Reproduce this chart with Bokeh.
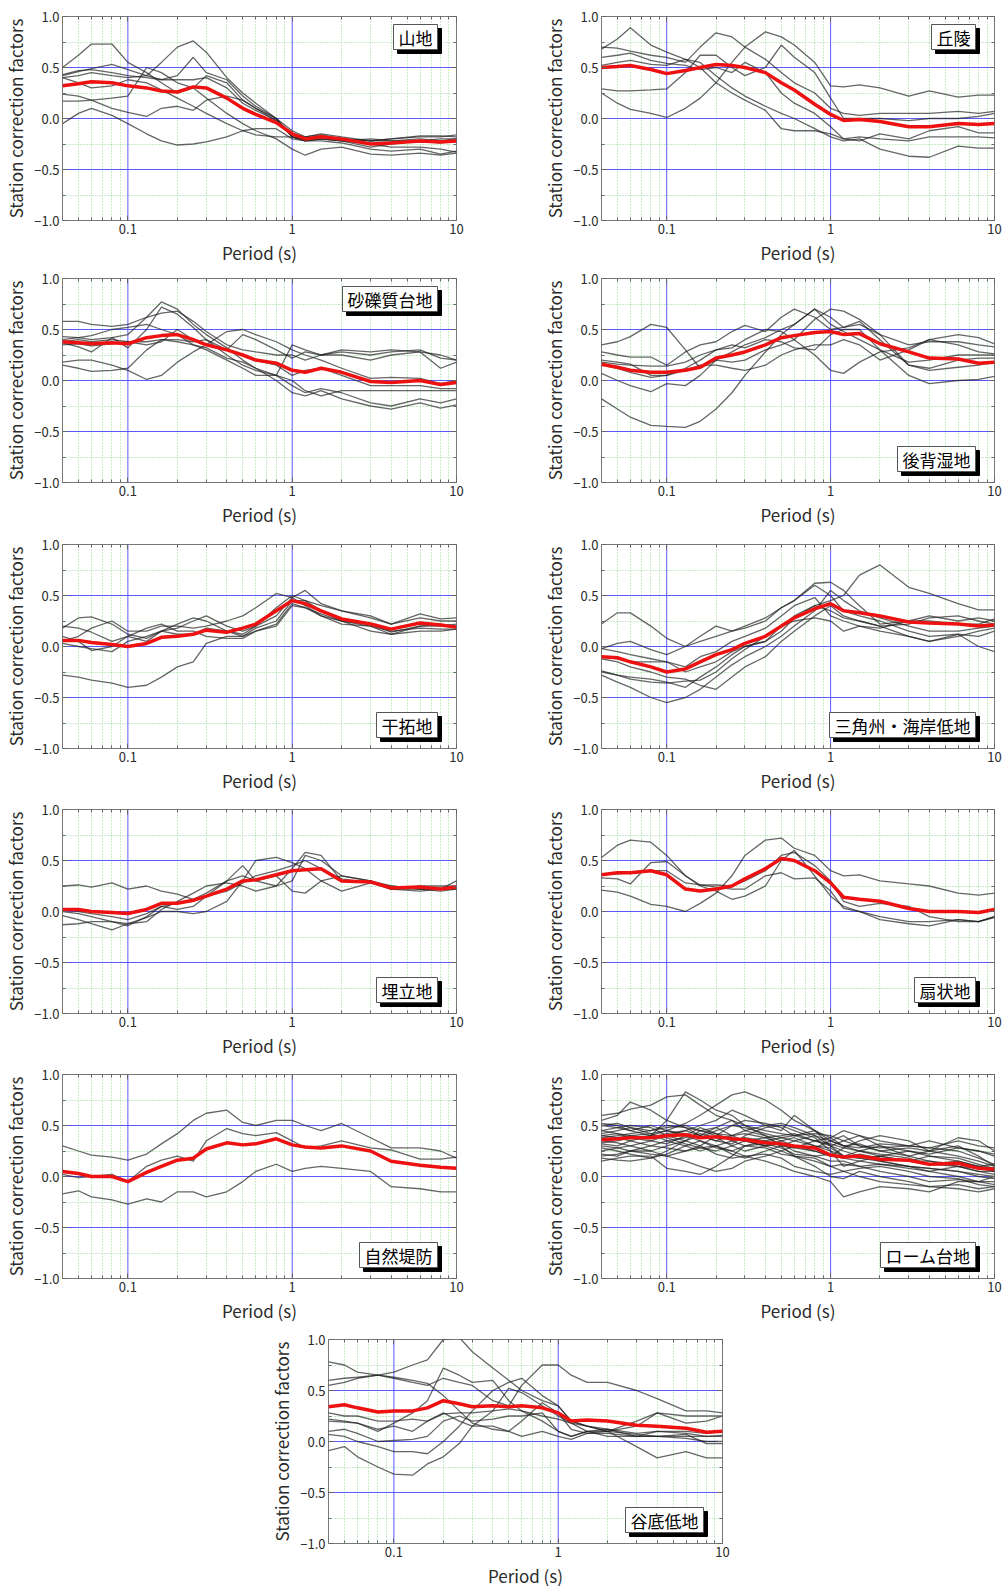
import math
from bokeh.plotting import figure
from bokeh.layouts import column, row
from bokeh.models import (Range1d, FixedTicker, CustomJSTickFormatter, LogAxis,
                          LinearAxis, Label, Span)
from bokeh.embed import file_html
from bokeh.resources import INLINE

FONT = "Noto Sans CJK JP"

# ---------------- data ----------------
PERIOD = [0.04, 0.05, 0.06, 0.08, 0.1, 0.13, 0.16, 0.2, 0.25, 0.3, 0.4, 0.5,
          0.6, 0.8, 1.0, 1.2, 1.5, 2.0, 3.0, 4.0, 6.0, 8.0, 10.0]

X_TICKS = [0.1, 1, 10]
X_TICK_LABELS = ["0.1", "1", "10"]
X_MINOR = [0.05, 0.06, 0.07, 0.08, 0.09, 0.2, 0.3, 0.4, 0.5, 0.6, 0.7, 0.8, 0.9,
           2, 3, 4, 5, 6, 7, 8, 9]
Y_TICKS = [-1.0, -0.5, 0.0, 0.5, 1.0]
Y_MINOR = [-0.75, -0.25, 0.25, 0.75]

sanchi_mean = [0.32, 0.34, 0.36, 0.35, 0.32, 0.30, 0.27, 0.26, 0.31, 0.30, 0.20, 0.10,
               0.04, -0.04, -0.15, -0.20, -0.18, -0.20, -0.25, -0.24, -0.22, -0.23, -0.22]
sanchi_stations = [
    [0.50, 0.62, 0.73, 0.73, 0.55, 0.45, 0.35, 0.25, 0.30, 0.42, 0.35, 0.18, 0.10, -0.02, -0.15, -0.18, -0.15, -0.18, -0.22, -0.20, -0.17, -0.17, -0.18],
    [0.40, 0.42, 0.45, 0.42, 0.40, 0.42, 0.55, 0.70, 0.76, 0.65, 0.40, 0.25, 0.15, 0.00, -0.18, -0.22, -0.20, -0.22, -0.28, -0.25, -0.22, -0.20, -0.20],
    [0.42, 0.46, 0.49, 0.53, 0.48, 0.42, 0.38, 0.38, 0.38, 0.40, 0.30, 0.15, 0.08, -0.02, -0.18, -0.21, -0.20, -0.22, -0.20, -0.22, -0.20, -0.22, -0.20],
    [-0.05, 0.05, 0.10, 0.03, -0.05, -0.15, -0.22, -0.26, -0.25, -0.23, -0.18, -0.12, -0.10, -0.10, -0.20, -0.22, -0.20, -0.22, -0.25, -0.28, -0.28, -0.30, -0.33],
    [0.17, 0.17, 0.18, 0.20, 0.22, 0.50, 0.45, 0.35, 0.30, 0.20, 0.05, -0.05, -0.12, -0.20, -0.30, -0.36, -0.30, -0.28, -0.35, -0.36, -0.34, -0.36, -0.34],
    [0.24, 0.22, 0.18, 0.10, 0.06, 0.02, 0.10, 0.12, 0.08, 0.18, 0.22, 0.18, 0.10, 0.00, -0.12, -0.18, -0.16, -0.20, -0.22, -0.20, -0.18, -0.18, -0.16],
    [0.40, 0.35, 0.30, 0.32, 0.38, 0.35, 0.28, 0.20, 0.12, 0.05, -0.05, -0.12, -0.16, -0.18, -0.18, -0.22, -0.22, -0.24, -0.30, -0.32, -0.30, -0.35, -0.32],
    [0.43, 0.47, 0.48, 0.45, 0.42, 0.40, 0.38, 0.42, 0.60, 0.45, 0.38, 0.22, 0.12, 0.00, -0.18, -0.20, -0.18, -0.20, -0.22, -0.22, -0.22, -0.24, -0.22],
]

kyuryo_mean = [0.50, 0.51, 0.52, 0.48, 0.44, 0.47, 0.50, 0.53, 0.52, 0.50, 0.45, 0.35,
               0.28, 0.14, 0.04, -0.02, -0.01, -0.03, -0.08, -0.08, -0.05, -0.06, -0.05]
kyuryo_stations = [
    [0.68, 0.78, 0.89, 0.72, 0.65, 0.58, 0.50, 0.35, 0.25, 0.18, 0.08, -0.10, -0.12, -0.12, -0.15, -0.20, -0.18, -0.20, -0.22, -0.18, -0.18, -0.18, -0.19],
    [0.70, 0.69, 0.66, 0.62, 0.60, 0.55, 0.70, 0.84, 0.80, 0.70, 0.58, 0.45, 0.35, 0.25, 0.10, 0.05, 0.03, 0.05, 0.05, 0.05, 0.07, 0.05, 0.07],
    [0.25, 0.15, 0.09, 0.05, 0.01, 0.10, 0.20, 0.35, 0.55, 0.70, 0.85, 0.80, 0.72, 0.55, 0.32, 0.31, 0.33, 0.30, 0.22, 0.27, 0.21, 0.23, 0.23],
    [0.29, 0.27, 0.27, 0.28, 0.29, 0.45, 0.62, 0.62, 0.50, 0.42, 0.50, 0.72, 0.60, 0.45, 0.20, 0.00, 0.00, 0.00, -0.02, 0.00, 0.00, 0.02, 0.05],
    [0.60, 0.62, 0.64, 0.57, 0.54, 0.52, 0.48, 0.50, 0.45, 0.55, 0.45, 0.25, 0.15, 0.05, -0.08, -0.20, -0.22, -0.15, -0.20, -0.12, -0.08, -0.14, -0.14],
    [0.52, 0.55, 0.57, 0.53, 0.52, 0.58, 0.55, 0.42, 0.30, 0.22, 0.12, 0.05, 0.00, -0.10, -0.18, -0.22, -0.20, -0.30, -0.37, -0.38, -0.27, -0.29, -0.29],
]

sareki_mean = [0.38, 0.37, 0.36, 0.37, 0.36, 0.42, 0.44, 0.45, 0.40, 0.35, 0.30, 0.25,
               0.20, 0.17, 0.10, 0.08, 0.12, 0.08, -0.01, -0.02, 0.00, -0.04, -0.02]
sareki_stations = [
    [0.58, 0.58, 0.55, 0.53, 0.55, 0.62, 0.66, 0.68, 0.58, 0.48, 0.35, 0.30, 0.28, 0.25, 0.25, 0.20, 0.25, 0.25, 0.20, 0.25, 0.28, 0.12, 0.18],
    [0.43, 0.42, 0.40, 0.42, 0.45, 0.62, 0.77, 0.70, 0.55, 0.45, 0.32, 0.20, 0.12, 0.00, -0.12, -0.15, -0.10, -0.18, -0.25, -0.28, -0.22, -0.27, -0.24],
    [0.37, 0.33, 0.28, 0.42, 0.32, 0.50, 0.72, 0.65, 0.52, 0.40, 0.25, 0.15, 0.10, 0.05, -0.05, -0.12, -0.08, -0.12, -0.22, -0.25, -0.18, -0.22, -0.18],
    [0.18, 0.20, 0.20, 0.15, 0.10, 0.01, 0.05, 0.18, 0.28, 0.35, 0.48, 0.50, 0.45, 0.38, 0.30, 0.25, 0.20, 0.12, 0.02, 0.03, 0.02, -0.03, 0.00],
    [0.15, 0.12, 0.09, 0.10, 0.12, 0.30, 0.40, 0.38, 0.35, 0.30, 0.20, 0.12, 0.05, 0.05, 0.35, 0.30, 0.25, 0.28, 0.25, 0.28, 0.30, 0.22, 0.20],
    [0.35, 0.36, 0.34, 0.36, 0.38, 0.38, 0.40, 0.40, 0.38, 0.40, 0.30, 0.25, 0.20, 0.15, 0.05, 0.10, 0.12, 0.05, -0.05, -0.05, -0.05, -0.08, -0.08],
    [0.40, 0.42, 0.44, 0.50, 0.52, 0.55, 0.50, 0.45, 0.35, 0.32, 0.22, 0.18, 0.12, 0.05, 0.00, -0.10, -0.15, -0.10, -0.10, -0.10, -0.10, -0.10, -0.10],
    [0.38, 0.40, 0.38, 0.40, 0.38, 0.35, 0.38, 0.50, 0.40, 0.35, 0.30, 0.45, 0.40, 0.30, 0.22, 0.28, 0.25, 0.30, 0.28, 0.30, 0.28, 0.25, 0.20],
]

kohai_mean = [0.16, 0.13, 0.10, 0.08, 0.08, 0.10, 0.13, 0.22, 0.25, 0.28, 0.35, 0.42,
              0.44, 0.47, 0.48, 0.45, 0.46, 0.36, 0.28, 0.22, 0.21, 0.17, 0.18]
kohai_stations = [
    [-0.18, -0.28, -0.36, -0.44, -0.45, -0.46, -0.40, -0.28, -0.12, 0.05, 0.28, 0.45, 0.55, 0.70, 0.62, 0.52, 0.55, 0.45, 0.35, 0.38, 0.38, 0.35, 0.33],
    [0.35, 0.38, 0.43, 0.55, 0.52, 0.30, 0.12, 0.20, 0.18, 0.20, 0.30, 0.35, 0.40, 0.60, 0.70, 0.68, 0.60, 0.45, 0.15, 0.10, 0.13, 0.15, 0.18],
    [0.28, 0.25, 0.23, 0.23, 0.15, 0.28, 0.35, 0.38, 0.48, 0.54, 0.48, 0.62, 0.70, 0.62, 0.50, 0.52, 0.58, 0.40, 0.15, 0.12, 0.20, 0.22, 0.22],
    [0.07, 0.00, -0.05, -0.11, -0.03, -0.05, 0.05, 0.20, 0.28, 0.35, 0.42, 0.50, 0.55, 0.70, 0.55, 0.48, 0.40, 0.30, 0.18, 0.20, 0.25, 0.25, 0.25],
    [0.20, 0.18, 0.16, 0.05, 0.05, 0.10, 0.15, 0.15, 0.12, 0.10, 0.15, 0.25, 0.30, 0.35, 0.35, 0.40, 0.35, 0.20, 0.30, 0.40, 0.45, 0.42, 0.36],
    [0.18, 0.16, 0.15, 0.14, 0.14, 0.18, 0.25, 0.30, 0.32, 0.40, 0.50, 0.48, 0.40, 0.25, 0.10, 0.07, 0.18, 0.28, 0.32, 0.40, 0.35, 0.28, 0.26],
    [0.15, 0.12, 0.08, 0.03, 0.05, 0.12, 0.20, 0.30, 0.35, 0.32, 0.40, 0.38, 0.32, 0.30, 0.45, 0.50, 0.50, 0.30, 0.05, -0.03, 0.00, 0.01, 0.04],
]

kantaku_mean = [0.06, 0.06, 0.04, 0.02, 0.00, 0.03, 0.09, 0.10, 0.12, 0.16, 0.14, 0.18,
                0.22, 0.35, 0.45, 0.42, 0.35, 0.27, 0.22, 0.17, 0.23, 0.21, 0.19]
kantaku_stations = [
    [-0.28, -0.30, -0.33, -0.36, -0.40, -0.38, -0.30, -0.20, -0.15, 0.03, 0.10, 0.10, 0.15, 0.22, 0.42, 0.38, 0.32, 0.25, 0.20, 0.15, 0.18, 0.17, 0.17],
    [0.18, 0.28, 0.29, 0.22, 0.12, 0.08, 0.15, 0.18, 0.25, 0.30, 0.20, 0.15, 0.20, 0.30, 0.48, 0.55, 0.42, 0.35, 0.28, 0.22, 0.32, 0.27, 0.28],
    [0.05, 0.10, 0.18, 0.25, 0.15, 0.15, 0.20, 0.20, 0.18, 0.20, 0.25, 0.30, 0.38, 0.52, 0.48, 0.40, 0.30, 0.25, 0.15, 0.12, 0.20, 0.22, 0.20],
    [0.10, 0.05, -0.04, 0.00, 0.10, 0.18, 0.22, 0.15, 0.15, 0.10, 0.08, 0.08, 0.15, 0.20, 0.40, 0.38, 0.30, 0.22, 0.20, 0.12, 0.15, 0.15, 0.17],
    [0.20, 0.18, 0.14, 0.05, 0.10, 0.05, 0.15, 0.22, 0.28, 0.25, 0.15, 0.10, 0.18, 0.25, 0.45, 0.45, 0.40, 0.35, 0.30, 0.22, 0.28, 0.25, 0.25],
    [0.03, 0.00, -0.02, -0.05, 0.05, 0.10, 0.15, 0.12, 0.12, 0.18, 0.15, 0.12, 0.20, 0.38, 0.50, 0.45, 0.35, 0.25, 0.22, 0.14, 0.20, 0.20, 0.22],
]

sankaku_mean = [-0.10, -0.11, -0.15, -0.20, -0.25, -0.22, -0.15, -0.08, -0.03, 0.03, 0.10, 0.20,
                0.28, 0.37, 0.42, 0.35, 0.33, 0.30, 0.24, 0.23, 0.22, 0.20, 0.21]
sankaku_stations = [
    [0.22, 0.33, 0.33, 0.20, 0.08, 0.00, 0.05, 0.10, 0.15, 0.18, 0.25, 0.38, 0.45, 0.60, 0.50, 0.35, 0.30, 0.25, 0.15, 0.10, 0.12, 0.00, -0.05],
    [-0.25, -0.28, -0.30, -0.32, -0.35, -0.40, -0.30, -0.20, -0.08, 0.00, 0.05, 0.15, 0.28, 0.40, 0.45, 0.50, 0.70, 0.80, 0.58, 0.52, 0.42, 0.36, 0.36],
    [-0.02, 0.03, 0.05, -0.03, -0.08, 0.00, 0.10, 0.20, 0.15, 0.20, 0.28, 0.38, 0.45, 0.62, 0.63, 0.55, 0.40, 0.22, 0.25, 0.30, 0.25, 0.28, 0.25],
    [-0.28, -0.35, -0.40, -0.50, -0.55, -0.50, -0.42, -0.30, -0.18, -0.10, 0.00, 0.10, 0.20, 0.35, 0.55, 0.45, 0.35, 0.28, 0.20, 0.15, 0.15, 0.18, 0.20],
    [-0.12, -0.15, -0.20, -0.25, -0.30, -0.32, -0.38, -0.42, -0.30, -0.20, -0.10, 0.05, 0.15, 0.30, 0.40, 0.30, 0.25, 0.20, 0.10, 0.05, 0.10, 0.15, 0.18],
    [-0.02, -0.05, -0.08, -0.12, -0.15, -0.20, -0.10, -0.05, 0.05, 0.10, 0.18, 0.30, 0.40, 0.48, 0.30, 0.25, 0.20, 0.18, 0.25, 0.25, 0.22, 0.22, 0.27],
    [-0.24, -0.28, -0.32, -0.35, -0.36, -0.34, -0.33, -0.25, -0.12, -0.03, 0.10, 0.20, 0.25, 0.28, 0.25, 0.15, 0.20, 0.15, 0.10, 0.05, 0.12, 0.10, 0.15],
    [-0.10, -0.12, -0.15, -0.15, -0.15, -0.25, -0.20, -0.15, -0.05, 0.00, 0.05, 0.20, 0.30, 0.40, 0.35, 0.28, 0.25, 0.20, 0.22, 0.28, 0.30, 0.25, 0.22],
]

umetate_mean = [0.02, 0.02, 0.00, -0.01, -0.02, 0.02, 0.08, 0.08, 0.11, 0.15, 0.22, 0.30,
                0.31, 0.36, 0.40, 0.41, 0.42, 0.30, 0.29, 0.23, 0.24, 0.22, 0.24]
umetate_stations = [
    [0.25, 0.26, 0.24, 0.28, 0.22, 0.25, 0.20, 0.17, 0.12, 0.18, 0.30, 0.35, 0.30, 0.35, 0.20, 0.18, 0.30, 0.20, 0.28, 0.22, 0.20, 0.22, 0.30],
    [-0.13, -0.12, -0.10, -0.10, -0.14, -0.05, 0.05, 0.02, 0.05, 0.15, 0.30, 0.45, 0.30, 0.25, 0.30, 0.55, 0.50, 0.35, 0.30, 0.22, 0.22, 0.22, 0.22],
    [0.00, -0.02, -0.05, -0.10, -0.12, -0.10, 0.02, 0.10, 0.18, 0.25, 0.28, 0.25, 0.20, 0.25, 0.42, 0.58, 0.55, 0.30, 0.30, 0.25, 0.22, 0.20, 0.22],
    [-0.04, -0.08, -0.12, -0.18, -0.12, -0.06, 0.00, 0.00, -0.02, 0.00, 0.10, 0.30, 0.50, 0.53, 0.48, 0.42, 0.30, 0.35, 0.30, 0.22, 0.25, 0.25, 0.25],
    [0.02, 0.00, -0.02, -0.05, -0.08, -0.02, 0.05, 0.08, 0.10, 0.15, 0.20, 0.28, 0.35, 0.40, 0.45, 0.50, 0.42, 0.32, 0.28, 0.25, 0.22, 0.22, 0.24],
]

senjo_mean = [0.36, 0.38, 0.38, 0.40, 0.36, 0.22, 0.20, 0.22, 0.25, 0.32, 0.42, 0.52,
              0.50, 0.40, 0.28, 0.14, 0.12, 0.10, 0.03, 0.00, 0.00, -0.01, 0.02]
senjo_stations = [
    [0.53, 0.65, 0.70, 0.68, 0.55, 0.35, 0.25, 0.20, 0.12, 0.15, 0.25, 0.50, 0.60, 0.35, 0.15, 0.05, 0.00, -0.08, -0.12, -0.14, -0.08, -0.10, -0.05],
    [0.33, 0.32, 0.27, 0.48, 0.49, 0.35, 0.26, 0.24, 0.22, 0.22, 0.35, 0.38, 0.32, 0.33, 0.20, 0.03, 0.00, -0.05, -0.10, -0.10, -0.08, -0.10, -0.05],
    [0.21, 0.19, 0.15, 0.07, 0.05, 0.00, 0.08, 0.18, 0.35, 0.55, 0.70, 0.72, 0.62, 0.55, 0.40, 0.35, 0.36, 0.30, 0.27, 0.25, 0.18, 0.16, 0.18],
    [0.36, 0.37, 0.38, 0.40, 0.40, 0.28, 0.26, 0.26, 0.25, 0.30, 0.40, 0.55, 0.58, 0.45, 0.30, 0.10, 0.05, 0.08, 0.05, -0.05, -0.10, -0.10, -0.06],
]

shizen_mean = [0.05, 0.03, 0.00, 0.00, -0.05, 0.04, 0.10, 0.16, 0.18, 0.27, 0.33, 0.31,
               0.32, 0.37, 0.31, 0.29, 0.28, 0.30, 0.25, 0.15, 0.11, 0.09, 0.08]
shizen_stations = [
    [0.30, 0.25, 0.21, 0.19, 0.16, 0.22, 0.32, 0.42, 0.55, 0.62, 0.65, 0.53, 0.50, 0.55, 0.55, 0.50, 0.45, 0.52, 0.38, 0.28, 0.28, 0.25, 0.18],
    [0.02, -0.01, 0.00, 0.02, -0.05, 0.10, 0.16, 0.20, 0.15, 0.35, 0.47, 0.42, 0.40, 0.43, 0.35, 0.28, 0.30, 0.35, 0.28, 0.26, 0.17, 0.17, 0.19],
    [-0.17, -0.14, -0.20, -0.23, -0.27, -0.22, -0.25, -0.15, -0.15, -0.20, -0.15, -0.05, 0.05, 0.12, 0.05, 0.08, 0.10, 0.08, 0.05, -0.10, -0.12, -0.15, -0.15],
]

loam_mean = [0.36, 0.37, 0.38, 0.38, 0.40, 0.41, 0.38, 0.39, 0.37, 0.36, 0.33, 0.32,
             0.30, 0.28, 0.21, 0.19, 0.20, 0.17, 0.16, 0.12, 0.13, 0.08, 0.07]
loam_stations = [
    [0.60, 0.62, 0.66, 0.70, 0.78, 0.80, 0.70, 0.60, 0.55, 0.50, 0.45, 0.42, 0.40, 0.45, 0.35, 0.40, 0.30, 0.28, 0.30, 0.35, 0.28, 0.25, 0.20],
    [0.55, 0.60, 0.73, 0.65, 0.55, 0.83, 0.75, 0.65, 0.60, 0.50, 0.40, 0.35, 0.30, 0.25, 0.20, 0.28, 0.35, 0.40, 0.35, 0.25, 0.30, 0.20, 0.10],
    [0.50, 0.48, 0.45, 0.50, 0.45, 0.52, 0.60, 0.70, 0.80, 0.83, 0.75, 0.65, 0.55, 0.45, 0.38, 0.30, 0.25, 0.30, 0.20, 0.25, 0.38, 0.35, 0.25],
    [0.45, 0.42, 0.40, 0.38, 0.42, 0.45, 0.50, 0.55, 0.65, 0.60, 0.50, 0.45, 0.60, 0.45, 0.30, 0.20, 0.18, 0.15, 0.10, 0.05, 0.00, -0.05, -0.05],
    [0.40, 0.38, 0.35, 0.30, 0.28, 0.25, 0.30, 0.40, 0.50, 0.55, 0.52, 0.48, 0.40, 0.35, 0.30, 0.35, 0.40, 0.30, 0.25, 0.22, 0.28, 0.25, 0.22],
    [0.35, 0.33, 0.30, 0.25, 0.20, 0.15, 0.10, 0.05, 0.08, 0.15, 0.20, 0.25, 0.20, 0.18, 0.10, 0.05, 0.00, -0.05, -0.08, -0.10, -0.12, -0.15, -0.12],
    [0.30, 0.28, 0.25, 0.22, 0.20, 0.25, 0.28, 0.30, 0.25, 0.20, 0.15, 0.10, 0.05, 0.00, -0.05, -0.20, -0.15, -0.10, -0.12, -0.15, -0.05, -0.05, 0.00],
    [0.20, 0.22, 0.25, 0.25, 0.30, 0.35, 0.40, 0.48, 0.55, 0.45, 0.40, 0.30, 0.20, 0.10, 0.00, -0.02, 0.05, 0.00, -0.05, -0.10, -0.08, -0.12, -0.10],
    [0.15, 0.18, 0.20, 0.20, 0.08, 0.05, 0.02, 0.10, 0.20, 0.30, 0.35, 0.38, 0.40, 0.42, 0.40, 0.35, 0.30, 0.25, 0.28, 0.25, 0.20, 0.15, 0.10],
    [0.38, 0.40, 0.42, 0.45, 0.50, 0.48, 0.45, 0.42, 0.40, 0.45, 0.50, 0.52, 0.48, 0.40, 0.35, 0.30, 0.32, 0.25, 0.20, 0.15, 0.10, 0.08, 0.05],
    [0.42, 0.45, 0.48, 0.42, 0.35, 0.38, 0.42, 0.38, 0.30, 0.25, 0.30, 0.35, 0.38, 0.30, 0.25, 0.20, 0.25, 0.22, 0.18, 0.12, 0.15, 0.10, 0.08],
    [0.25, 0.28, 0.30, 0.35, 0.40, 0.45, 0.40, 0.35, 0.32, 0.40, 0.48, 0.50, 0.45, 0.38, 0.25, 0.10, 0.15, 0.20, 0.25, 0.20, 0.15, 0.10, 0.05],
    [0.32, 0.30, 0.35, 0.40, 0.38, 0.32, 0.28, 0.25, 0.30, 0.35, 0.30, 0.25, 0.30, 0.28, 0.35, 0.30, 0.28, 0.32, 0.30, 0.28, 0.25, 0.18, 0.12],
    [0.50, 0.52, 0.48, 0.45, 0.48, 0.50, 0.45, 0.40, 0.38, 0.35, 0.38, 0.32, 0.25, 0.20, 0.15, 0.15, 0.10, 0.12, 0.08, 0.05, 0.10, 0.05, 0.02],
    [0.28, 0.25, 0.22, 0.18, 0.22, 0.30, 0.35, 0.30, 0.22, 0.18, 0.25, 0.30, 0.35, 0.40, 0.30, 0.25, 0.20, 0.15, 0.10, 0.08, 0.05, 0.00, -0.02],
    [0.36, 0.38, 0.40, 0.42, 0.45, 0.42, 0.38, 0.45, 0.50, 0.48, 0.42, 0.38, 0.35, 0.30, 0.28, 0.20, 0.18, 0.20, 0.15, 0.12, 0.10, 0.05, 0.05],
    [0.18, 0.16, 0.15, 0.18, 0.25, 0.35, 0.30, 0.22, 0.18, 0.20, 0.22, 0.18, 0.10, 0.05, 0.02, 0.05, 0.08, 0.10, 0.05, 0.00, -0.02, -0.08, -0.10],
    [0.45, 0.48, 0.50, 0.48, 0.40, 0.35, 0.45, 0.48, 0.40, 0.35, 0.30, 0.32, 0.28, 0.35, 0.38, 0.45, 0.40, 0.35, 0.30, 0.28, 0.35, 0.30, 0.28],
    [0.22, 0.20, 0.25, 0.30, 0.35, 0.30, 0.25, 0.30, 0.35, 0.30, 0.28, 0.22, 0.20, 0.15, 0.10, 0.12, 0.10, 0.05, 0.00, -0.05, -0.03, -0.05, -0.08],
    [0.40, 0.42, 0.38, 0.35, 0.32, 0.40, 0.48, 0.42, 0.35, 0.38, 0.35, 0.30, 0.28, 0.25, 0.20, 0.18, 0.22, 0.18, 0.15, 0.20, 0.18, 0.12, 0.08],
    [0.33, 0.35, 0.38, 0.40, 0.55, 0.48, 0.40, 0.35, 0.40, 0.42, 0.38, 0.40, 0.42, 0.35, 0.32, 0.28, 0.25, 0.20, 0.15, 0.15, 0.12, 0.10, 0.12],
    [0.52, 0.50, 0.45, 0.40, 0.45, 0.40, 0.35, 0.28, 0.25, 0.30, 0.32, 0.28, 0.22, 0.20, 0.22, 0.18, 0.15, 0.12, 0.10, 0.08, 0.05, 0.02, 0.00],
]

kokutei_mean = [0.34, 0.36, 0.33, 0.29, 0.30, 0.30, 0.33, 0.40, 0.37, 0.34, 0.35, 0.34,
                0.35, 0.33, 0.28, 0.20, 0.21, 0.20, 0.16, 0.15, 0.13, 0.09, 0.10]
kokutei_stations = [
    [0.78, 0.75, 0.68, 0.65, 0.63, 0.60, 0.57, 0.45, 0.30, 0.18, 0.12, 0.10, 0.20, 0.38, 0.28, 0.12, 0.08, 0.10, 0.07, 0.05, 0.07, -0.02, -0.02],
    [0.55, 0.58, 0.62, 0.65, 0.68, 0.75, 0.80, 1.00, 1.02, 0.88, 0.72, 0.60, 0.50, 0.40, 0.35, 0.20, 0.15, 0.12, 0.05, 0.05, 0.05, 0.05, 0.06],
    [0.60, 0.62, 0.63, 0.65, 0.62, 0.58, 0.55, 0.62, 0.58, 0.55, 0.40, 0.35, 0.55, 0.75, 0.75, 0.65, 0.58, 0.58, 0.50, 0.42, 0.30, 0.30, 0.28],
    [-0.09, -0.05, -0.15, -0.25, -0.32, -0.33, -0.22, -0.15, -0.02, 0.15, 0.30, 0.52, 0.48, 0.35, 0.25, 0.18, 0.10, 0.10, -0.05, -0.16, -0.10, -0.16, -0.16],
    [0.07, 0.05, 0.00, -0.05, -0.10, -0.10, -0.12, 0.00, 0.15, 0.30, 0.50, 0.58, 0.62, 0.45, 0.35, 0.20, 0.15, 0.10, 0.20, 0.28, 0.18, 0.20, 0.25],
    [0.20, 0.19, 0.18, 0.10, 0.18, 0.28, 0.40, 0.72, 0.65, 0.58, 0.60, 0.40, 0.30, 0.20, 0.10, 0.05, 0.10, 0.05, 0.05, 0.10, 0.08, 0.05, 0.05],
    [0.28, 0.25, 0.25, 0.20, 0.20, 0.22, 0.20, 0.27, 0.28, 0.28, 0.30, 0.32, 0.30, 0.25, 0.22, 0.18, 0.15, 0.10, 0.15, 0.28, 0.25, 0.25, 0.25],
    [0.10, 0.12, 0.08, 0.00, 0.01, 0.02, 0.05, 0.20, 0.25, 0.20, 0.22, 0.25, 0.25, 0.28, 0.10, 0.05, 0.10, 0.12, 0.08, 0.10, 0.10, 0.08, 0.10],
    [0.22, 0.20, 0.18, 0.12, 0.15, 0.10, 0.20, 0.28, 0.20, 0.15, 0.15, 0.10, 0.05, 0.10, 0.05, 0.02, 0.08, 0.08, 0.05, 0.05, 0.03, 0.00, 0.00],
]

# (name, stations, mean, label position)
PANELS = [
    ("山地", sanchi_stations, sanchi_mean, "top"),
    ("丘陵", kyuryo_stations, kyuryo_mean, "top"),
    ("砂礫質台地", sareki_stations, sareki_mean, "top"),
    ("後背湿地", kohai_stations, kohai_mean, "bottom"),
    ("干拓地", kantaku_stations, kantaku_mean, "bottom"),
    ("三角州・海岸低地", sankaku_stations, sankaku_mean, "bottom"),
    ("埋立地", umetate_stations, umetate_mean, "bottom"),
    ("扇状地", senjo_stations, senjo_mean, "bottom"),
    ("自然堤防", shizen_stations, shizen_mean, "bottom"),
    ("ローム台地", loam_stations, loam_mean, "bottom"),
    ("谷底低地", kokutei_stations, kokutei_mean, "bottom"),
]


def x_fmt():
    return CustomJSTickFormatter(args=dict(labs=X_TICK_LABELS, tv=X_TICKS), code="""
for (let i = 0; i < tv.length; i++) { if (Math.abs(tick - tv[i]) < 1e-9 * tv[i]) return labs[i]; }
return '';
""")


def y_fmt():
    return CustomJSTickFormatter(code="return (tick < 0 ? '\u2212' : '') + Math.abs(tick).toFixed(1);")


def blank_fmt():
    return CustomJSTickFormatter(code="return '';")


def style_axis(ax, label):
    ax.axis_label = label
    ax.axis_label_text_font = FONT
    ax.axis_label_text_font_size = "17px"
    ax.axis_label_text_font_style = "normal"
    ax.axis_label_text_color = "#2a2a2a"
    ax.major_label_text_font = FONT
    ax.major_label_text_font_size = "13px"
    ax.major_label_text_color = "#2a2a2a"
    ax.major_tick_in = 5
    ax.major_tick_out = 0
    ax.minor_tick_in = 3
    ax.minor_tick_out = 0
    ax.major_tick_line_color = "#666666"
    ax.minor_tick_line_color = "#666666"
    ax.axis_line_color = None
    ax.major_label_standoff = 3
    ax.axis_label_standoff = 3


def make_panel(name, stations, mean, label_at, fw, bl, br, bt, bb):
    p = figure(x_axis_type="log", x_range=Range1d(0.04, 10), y_range=Range1d(-1, 1),
               frame_width=fw, frame_height=204,
               min_border_left=bl, min_border_right=br, min_border_top=bt, min_border_bottom=bb,
               output_backend="svg", toolbar_location=None)
    p.outline_line_color = "#777777"
    p.outline_line_width = 1
    p.background_fill_color = "white"
    p.border_fill_color = "white"

    xt = FixedTicker(ticks=X_TICKS, minor_ticks=X_MINOR)
    yt = FixedTicker(ticks=Y_TICKS, minor_ticks=Y_MINOR)

    xa = p.xaxis[0]
    xa.ticker = xt
    xa.formatter = x_fmt()
    style_axis(xa, "Period (s)")
    ya = p.yaxis[0]
    ya.ticker = yt
    ya.formatter = y_fmt()
    style_axis(ya, "Station correction factors")

    for loc, ax in (("above", LogAxis(ticker=FixedTicker(ticks=X_TICKS, minor_ticks=X_MINOR))),
                    ("right", LinearAxis(ticker=FixedTicker(ticks=Y_TICKS, minor_ticks=Y_MINOR)))):
        ax.formatter = blank_fmt()
        ax.major_label_text_font_size = "6px"
        ax.major_label_standoff = 0
        ax.major_tick_in = 5
        ax.major_tick_out = 0
        ax.minor_tick_in = 3
        ax.minor_tick_out = 0
        ax.major_tick_line_color = "#666666"
        ax.minor_tick_line_color = "#666666"
        ax.axis_line_color = None
        p.add_layout(ax, loc)

    # minor grid (dotted green) from the grid; major lines as blue spans
    p.xgrid.ticker = xt
    p.ygrid.ticker = yt
    for g in (p.xgrid, p.ygrid):
        g.grid_line_color = None
        g.minor_grid_line_color = "#8fd88f"
        g.minor_grid_line_dash = "1 2"
        g.minor_grid_line_width = 1
    for t in X_TICKS[:-1]:
        p.add_layout(Span(location=t, dimension="height", line_color="#5a5aff",
                          line_width=1, level="underlay"))
    for t in Y_TICKS[1:-1]:
        p.add_layout(Span(location=t, dimension="width", line_color="#5a5aff",
                          line_width=1, level="underlay"))

    for s in stations:
        p.line(PERIOD, s, line_color="#1e1e1e", line_alpha=0.68, line_width=1.3)
    p.line(PERIOD, mean, line_color="#ee1111", line_width=3.5)

    px_per_dec = fw / math.log10(10 / 0.04)
    xr = 10 * 10 ** (-19 / px_per_dec)
    if label_at == "top":
        yl = 1 - 8 * 2.0 / 204
        base = "top"
    else:
        yl = -1 + 11 * 2.0 / 204
        base = "bottom"
    pad = dict(left=5, right=5, top=0, bottom=0)
    common = dict(x=xr, y=yl, text=name, text_align="right", text_baseline=base,
                  text_font=FONT, text_font_size="17px", padding=pad)
    shadow = Label(x_offset=4, y_offset=-4, text_color="black",
                   background_fill_color="black", border_line_color="black", **common)
    box = Label(text_color="black", background_fill_color="white",
                border_line_color="#555555", border_line_width=1, **common)
    p.add_layout(shadow)
    p.add_layout(box)
    return p


LEFT = dict(fw=394, bl=59, br=20)
RIGHT = dict(fw=393, bl=125, br=10)
row_tops = [16, 8, 8, 8, 8]
row_bottoms = [50, 54, 53, 53, 53]

figs = []
for i, (name, st, mn, lab) in enumerate(PANELS[:10]):
    r = i // 2
    cfg = LEFT if i % 2 == 0 else RIGHT
    figs.append(make_panel(name, st, mn, lab, bt=row_tops[r], bb=row_bottoms[r], **cfg))

last = make_panel(*PANELS[10], fw=394, bl=328, br=20, bt=8, bb=44)

rows = [row(figs[2 * k], figs[2 * k + 1]) for k in range(5)]
rows.append(row(last))
layout = column(*rows)

open("out.html", "w", encoding="utf-8").write(file_html(layout, INLINE))
